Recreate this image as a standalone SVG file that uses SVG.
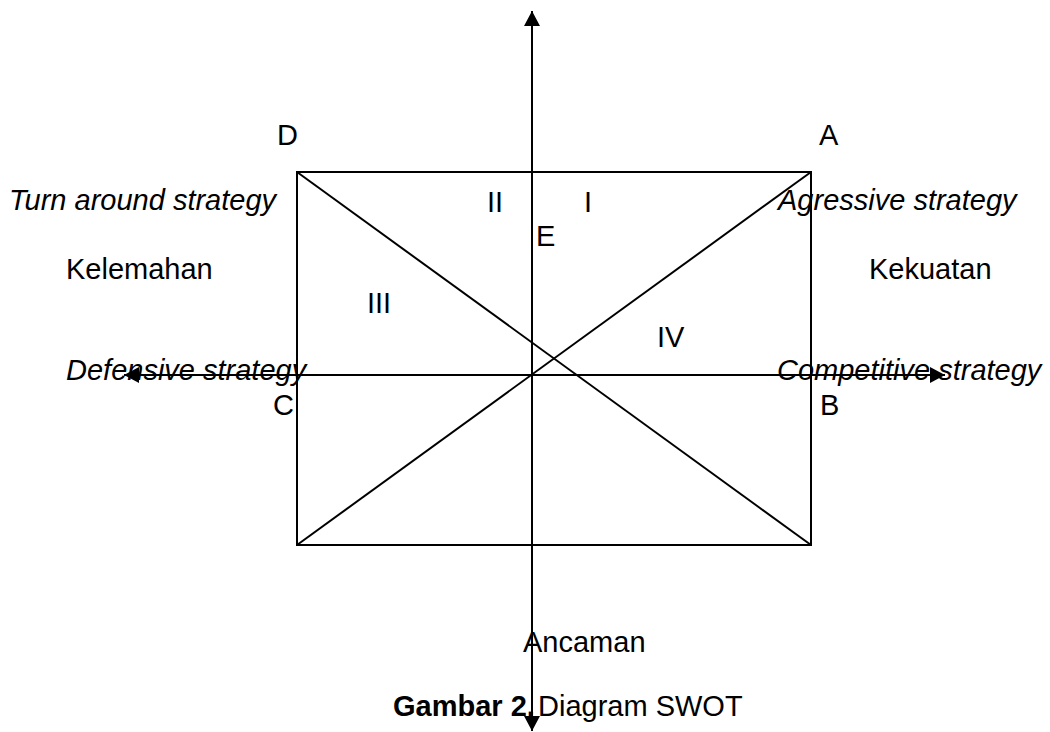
<svg xmlns="http://www.w3.org/2000/svg" width="1050" height="732" viewBox="0 0 1050 732">
  <style>
    .ln { stroke: #000; stroke-width: 2; fill: none; }
    .t { font-family: "Liberation Sans", Arial, sans-serif; font-size: 29px; fill: #000; }
    .it { font-style: italic; }
    .b { font-weight: bold; }
  </style>
  <defs>
    <marker id="arr" markerUnits="userSpaceOnUse" markerWidth="16" markerHeight="18" refX="15" refY="8" orient="auto">
      <path d="M0,0 L15,8 L0,16 Z" fill="#000"/>
    </marker>
  </defs>
  <rect width="1050" height="732" fill="#fff"/>
  <g id="connectors">
    <rect class="ln" x="297" y="172" width="514" height="373"/>
    <line class="ln" x1="297" y1="172" x2="811" y2="545"/>
    <line class="ln" x1="297" y1="545" x2="811" y2="172"/>
    <line class="ln" x1="532" y1="400" x2="532" y2="11" marker-end="url(#arr)"/>
    <line class="ln" x1="532" y1="400" x2="532" y2="731" marker-end="url(#arr)"/>
    <line class="ln" x1="532" y1="375" x2="124" y2="375" marker-end="url(#arr)"/>
    <line class="ln" x1="532" y1="375" x2="945" y2="375" marker-end="url(#arr)"/>
  </g>
  <g id="labels">
    <text class="t" x="277" y="145">D</text>
    <text class="t" x="819" y="145">A</text>
    <text class="t it" x="9" y="210">Turn around strategy</text>
    <text class="t it" x="778" y="210">Agressive strategy</text>
    <text class="t" x="487" y="212">II</text>
    <text class="t" x="584" y="212">I</text>
    <text class="t" x="536" y="246">E</text>
    <text class="t" x="66" y="279">Kelemahan</text>
    <text class="t" x="869" y="279">Kekuatan</text>
    <text class="t" x="367" y="313">III</text>
    <text class="t" x="657" y="347">IV</text>
    <text class="t it" x="66" y="380">Defensive strategy</text>
    <text class="t it" x="777" y="380">Competitive strategy</text>
    <text class="t" x="273" y="415">C</text>
    <text class="t" x="820" y="415">B</text>
    <text class="t" x="523" y="652">Ancaman</text>
    <text class="t b" x="393" y="716">Gambar 2.</text>
    <text class="t" x="538" y="716">Diagram SWOT</text>
  </g>
</svg>
